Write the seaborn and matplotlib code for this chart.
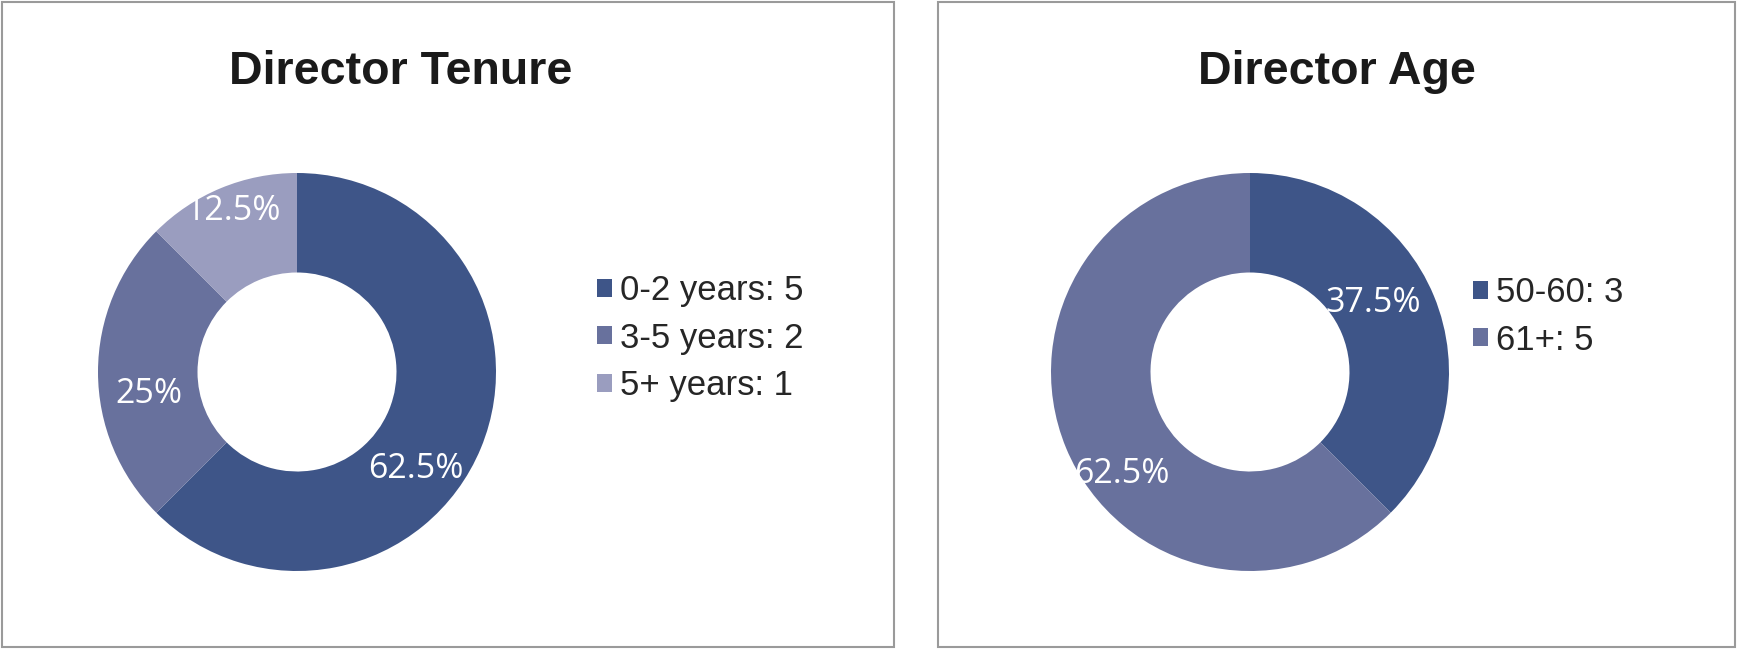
import matplotlib
matplotlib.use("Agg")
import matplotlib.pyplot as plt
import seaborn as sns
import numpy as np
from matplotlib import font_manager
from matplotlib.patches import Rectangle, Patch

# ---- data ----
tenure_labels = ["0-2 years", "3-5 years", "5+ years"]
tenure_counts = [5, 2, 1]
age_labels = ["50-60", "61+"]
age_counts = [3, 5]

# ---- style ----
colors = ["#3E5588", "#68719D", "#9A9DBF"]
sns.set_theme(style="white")
available = {f.name for f in font_manager.fontManager.ttflist}
narrow = "Liberation Sans Narrow" if "Liberation Sans Narrow" in available else "Liberation Sans"
label_font = "Open Sans" if "Open Sans" in available else "DejaVu Sans"
plt.rcParams["font.family"] = [narrow, "DejaVu Sans"]

W, H = 1737, 649
fig = plt.figure(figsize=(W / 100, H / 100), dpi=100)
fig.patch.set_facecolor("white")

# panel borders
for (x0, x1) in [(2, 894), (938, 1735)]:
    fig.patches.append(Rectangle((x0 / W, 2 / H), (x1 - x0) / W, (H - 4) / H,
                                 transform=fig.transFigure, fill=False,
                                 edgecolor="#9a9a9a", linewidth=1.5))


def donut(cx, cy, R, counts, names, title, tx, legend_xy, lab_angle, lab_dist):
    ax = fig.add_axes([(cx - R) / W, (H - cy - R) / H, 2 * R / W, 2 * R / H])
    pal = sns.color_palette(colors[:len(counts)])
    ax.pie(counts, colors=pal, startangle=90, counterclock=False,
           radius=1, wedgeprops=dict(width=0.5, linewidth=0))
    ax.set_xlim(-1, 1)
    ax.set_ylim(-1, 1)
    ax.set_aspect("equal")
    ax.axis("off")
    total = sum(counts)
    for v, a, d in zip(counts, lab_angle, lab_dist):
        s = f"{100 * v / total:g}%"
        ax.text(d * np.cos(np.radians(a)), d * np.sin(np.radians(a)) - 0.02, s,
                ha="center", va="center", color="white", fontsize=24.5,
                family=[label_font, "DejaVu Sans"])
    fig.text(tx / W, 1 - 72 / H, title, ha="center", va="center",
             fontsize=33.5, fontweight="bold", color="#1a1a1a")
    handles = [Patch(facecolor=c, edgecolor="none") for c in pal]
    labs = [f"{n}: {v}" for n, v in zip(names, counts)]
    fig.legend(handles, labs, loc="upper left",
               bbox_to_anchor=(legend_xy[0] / W, 1 - legend_xy[1] / H),
               frameon=False, fontsize=25, handlelength=0.42, handleheight=0.42,
               handletextpad=0.25, labelspacing=0.42, borderpad=0, borderaxespad=0)


donut(297, 372, 199, tenure_counts, tenure_labels, "Director Tenure", 401,
      (597, 274), [-38, 187, 111], [0.76, 0.75, 0.89])
donut(1250, 372, 199, age_counts, age_labels, "Director Age", 1337,
      (1473, 276), [30.5, 217.5], [0.72, 0.81])

fig.savefig("out.png", dpi=100, facecolor="white")
